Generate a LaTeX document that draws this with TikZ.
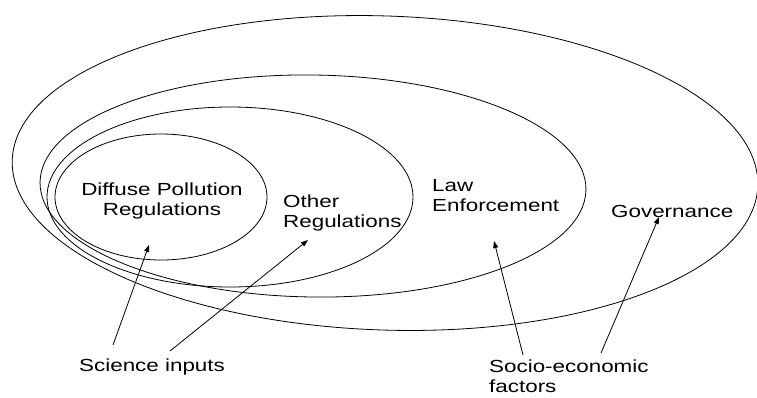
\documentclass[tikz,border=0pt]{standalone}
\usepackage{fontspec}
\newfontfamily\lblfont[FakeStretch=1.28]{Liberation Sans}
\usetikzlibrary{arrows.meta}
\tikzset{
  ring/.style={draw=black, line width=0.8pt},
  lbl/.style={inner sep=0pt, font=\lblfont\fontsize{17.5pt}{19.5pt}\selectfont},
  pointer/.style={draw=black, line width=0.8pt, -{Triangle[length=7pt,width=5pt]}}
}
\begin{document}
\begin{tikzpicture}[x=1pt,y=-1pt]
\useasboundingbox (0,0) rectangle (757,397);
% ellipses (pixel coordinates, y down)
\draw[ring] (385,173) ellipse [x radius=373, y radius=157, rotate=-2];
\draw[ring] (313,186) ellipse [x radius=273, y radius=111, rotate=-0.8];
\draw[ring] (230,197) ellipse [x radius=183, y radius=90];
\draw[ring] (161,197) ellipse [x radius=106, y radius=63];
% labels (base anchor = baseline of the last line)
\node[lbl, anchor=base, align=center] (dpr) at (162,215) {Diffuse Pollution\\Regulations};
\node[lbl, anchor=base west, align=left] (oreg) at (283,227) {Other\\Regulations};
\node[lbl, anchor=base west, align=left] (law) at (432,211) {Law\\Enforcement};
\node[lbl, anchor=base west] (gov) at (611,217) {Governance};
\node[lbl, anchor=base west] (sci) at (79,371) {Science inputs};
\node[lbl, anchor=base west, align=left] (soc) at (489,392) {Socio-economic\\factors};
% arrow end points
\coordinate (s1) at (113,345);
\coordinate (h1) at (149,245);
\coordinate (s2) at (170,351);
\coordinate (h2) at (308,240);
\coordinate (s3) at (523,355);
\coordinate (h3) at (494,241);
\coordinate (s4) at (601,353);
\coordinate (h4) at (659,217);
\draw[pointer] (s1) -- (h1);
\draw[pointer] (s2) -- (h2);
\draw[pointer] (s3) -- (h3);
\draw[pointer] (s4) -- (h4);
\end{tikzpicture}
\end{document}
